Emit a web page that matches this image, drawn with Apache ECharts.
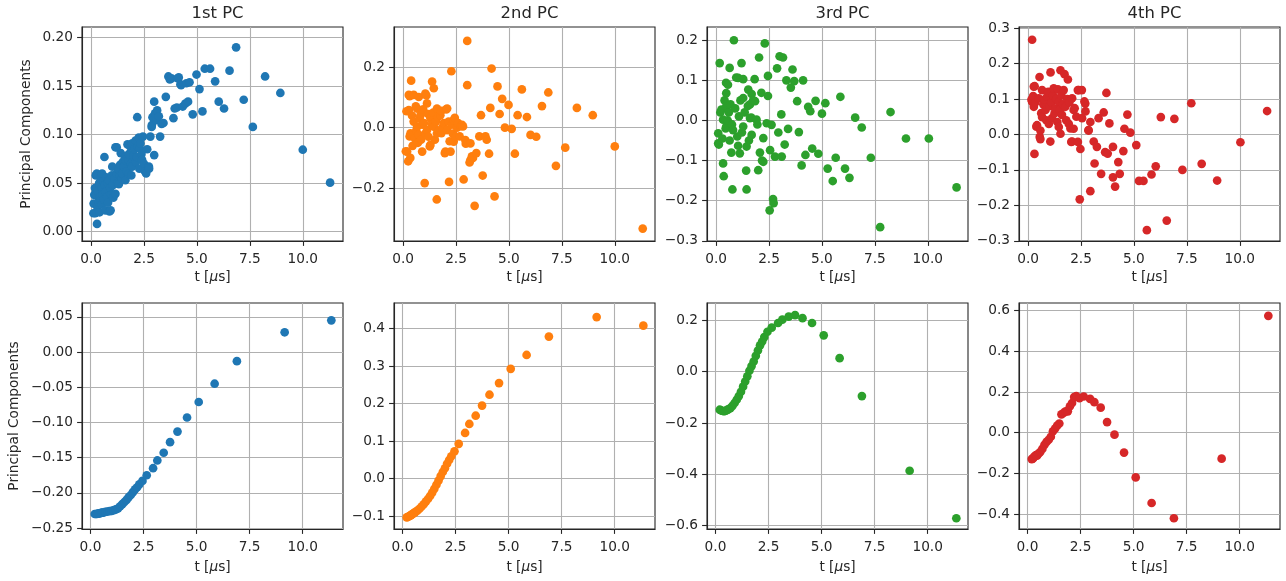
<!DOCTYPE html>
<html>
<head>
<meta charset="utf-8">
<script src="https://cdn.jsdelivr.net/npm/echarts/dist/echarts.min.js"></script>
<style>
html,body{margin:0;padding:0;background:#fff;}
#chart{width:1286px;height:581px;}
</style>
</head>
<body>
<div id="chart"></div>
<script>
// ---------- DATA ----------
const panelTitles = ['1st PC', '2nd PC', '3rd PC', '4th PC'];
const xTickValues = [0, 2.5, 5, 7.5, 10];

// Top row: [t (µs), value]
const pc1Top = [[0.11,0.019],[0.12,0.029],[0.15,0.038],[0.18,0.045],[0.2,0.039],[0.2,0.019],[0.22,0.058],[0.24,0.038],[0.27,0.06],[0.28,0.008],[0.3,0.025],[0.32,0.042],[0.35,0.031],[0.38,0.05],[0.4,0.02],[0.42,0.036],[0.44,0.032],[0.45,0.055],[0.48,0.045],[0.5,0.028],[0.52,0.06],[0.52,0.046],[0.55,0.038],[0.58,0.052],[0.6,0.033],[0.63,0.077],[0.65,0.048],[0.68,0.022],[0.7,0.041],[0.72,0.056],[0.76,0.036],[0.78,0.05],[0.8,0.03],[0.84,0.053],[0.87,0.021],[0.9,0.045],[0.92,0.022],[0.95,0.038],[0.98,0.058],[1.0,0.067],[1.02,0.048],[1.05,0.035],[1.1,0.055],[1.15,0.039],[1.15,0.087],[1.2,0.06],[1.21,0.087],[1.25,0.05],[1.31,0.049],[1.31,0.064],[1.35,0.058],[1.37,0.069],[1.4,0.081],[1.45,0.055],[1.47,0.06],[1.5,0.072],[1.55,0.067],[1.6,0.077],[1.62,0.053],[1.62,0.074],[1.68,0.062],[1.72,0.09],[1.76,0.074],[1.78,0.06],[1.78,0.08],[1.84,0.088],[1.88,0.07],[1.9,0.058],[1.94,0.067],[1.94,0.091],[2.0,0.078],[2.05,0.085],[2.1,0.094],[2.12,0.072],[2.16,0.077],[2.18,0.118],[2.2,0.088],[2.25,0.097],[2.28,0.065],[2.3,0.086],[2.33,0.091],[2.38,0.08],[2.41,0.074],[2.45,0.098],[2.5,0.07],[2.55,0.062],[2.6,0.06],[2.65,0.085],[2.73,0.067],[2.74,0.065],[2.8,0.098],[2.86,0.108],[2.87,0.11],[2.9,0.118],[2.98,0.079],[2.98,0.134],[3.02,0.122],[3.08,0.115],[3.12,0.125],[3.2,0.119],[3.26,0.098],[3.33,0.111],[3.42,0.112],[3.53,0.139],[3.65,0.16],[3.72,0.157],[3.8,0.158],[3.89,0.117],[3.95,0.127],[4.05,0.128],[4.1,0.158],[4.14,0.159],[4.22,0.152],[4.25,0.151],[4.33,0.129],[4.45,0.132],[4.5,0.153],[4.58,0.134],[4.65,0.154],[4.8,0.121],[4.98,0.162],[5.12,0.147],[5.26,0.124],[5.37,0.168],[5.62,0.168],[5.86,0.155],[6.03,0.134],[6.28,0.127],[6.54,0.166],[6.85,0.190],[7.21,0.136],[7.64,0.108],[8.22,0.160],[8.94,0.143],[10.0,0.0845],[11.29,0.0505]];

const pc2Top = [[0.13,-0.078],[0.16,0.054],[0.19,-0.079],[0.24,-0.111],[0.27,0.108],[0.27,0.058],[0.31,0.104],[0.31,-0.029],[0.34,-0.1],[0.35,-0.019],[0.38,0.155],[0.42,0.04],[0.45,-0.06],[0.5,0.108],[0.5,0.02],[0.55,-0.035],[0.6,0.07],[0.62,-0.01],[0.66,0.063],[0.66,0.003],[0.7,-0.05],[0.74,0.101],[0.74,-0.024],[0.78,0.03],[0.82,0.041],[0.85,-0.04],[0.9,-0.079],[0.9,0.01],[0.95,0.06],[0.98,0.015],[1.02,-0.183],[1.05,0.112],[1.05,-0.02],[1.1,0.106],[1.13,0.08],[1.13,-0.008],[1.18,0.045],[1.2,-0.03],[1.26,-0.062],[1.29,0.031],[1.29,-0.057],[1.35,0.01],[1.37,0.152],[1.42,0.05],[1.45,0.13],[1.45,0.003],[1.5,-0.04],[1.55,0.02],[1.59,-0.237],[1.6,0.063],[1.6,-0.019],[1.65,0.035],[1.7,-0.01],[1.76,0.041],[1.8,0.055],[1.81,-0.018],[1.85,0.0],[1.92,0.015],[1.97,-0.084],[2.0,-0.079],[2.04,0.06],[2.08,0.063],[2.08,-0.008],[2.15,0.02],[2.17,-0.179],[2.2,-0.045],[2.24,-0.079],[2.28,0.186],[2.3,0.01],[2.35,-0.02],[2.39,0.025],[2.39,-0.046],[2.44,0.032],[2.47,-0.03],[2.55,0.0],[2.6,0.015],[2.67,-0.029],[2.72,0.005],[2.78,0.009],[2.83,0.004],[2.86,-0.171],[2.94,-0.041],[2.96,-0.053],[3.03,0.286],[3.03,0.14],[3.14,-0.115],[3.18,-0.052],[3.18,-0.107],[3.25,-0.095],[3.3,-0.1],[3.38,-0.258],[3.46,-0.084],[3.6,-0.029],[3.68,0.041],[3.76,-0.158],[3.89,-0.029],[3.95,-0.04],[4.06,-0.086],[4.12,0.065],[4.18,0.195],[4.32,-0.227],[4.46,0.136],[4.56,0.045],[4.68,0.095],[4.81,0.0],[4.98,0.075],[5.13,-0.004],[5.28,-0.086],[5.41,0.041],[5.61,0.126],[5.85,0.035],[6.02,-0.024],[6.29,-0.030],[6.56,0.071],[6.86,0.116],[7.22,-0.126],[7.66,-0.066],[8.21,0.065],[8.96,0.041],[10.0,-0.062],[11.32,-0.333]];

const pc3Top = [[0.1,-0.032],[0.1,-0.057],[0.13,-0.06],[0.17,0.143],[0.2,0.02],[0.25,0.027],[0.3,-0.045],[0.33,0.002],[0.33,-0.107],[0.36,-0.139],[0.4,0.05],[0.45,-0.02],[0.47,0.094],[0.48,0.068],[0.48,0.035],[0.48,-0.015],[0.55,0.0],[0.56,0.089],[0.6,0.02],[0.64,0.131],[0.64,-0.05],[0.68,0.04],[0.72,-0.08],[0.75,-0.01],[0.77,-0.172],[0.8,-0.024],[0.84,0.2],[0.9,0.03],[0.95,0.107],[1.0,-0.04],[1.04,-0.063],[1.04,0.106],[1.08,0.01],[1.12,-0.082],[1.15,0.05],[1.2,0.143],[1.22,-0.03],[1.28,0.103],[1.28,0.056],[1.28,-0.015],[1.35,0.02],[1.42,-0.125],[1.44,-0.065],[1.44,-0.172],[1.5,0.036],[1.52,0.077],[1.55,-0.05],[1.6,0.04],[1.6,0.006],[1.66,0.007],[1.68,0.066],[1.68,-0.036],[1.75,0.05],[1.82,0.103],[1.84,0.048],[1.91,0.002],[1.95,-0.01],[1.99,-0.124],[2.03,0.157],[2.07,-0.08],[2.14,0.069],[2.17,-0.1],[2.23,-0.044],[2.23,-0.103],[2.3,0.192],[2.39,-0.007],[2.45,0.111],[2.45,0.061],[2.53,-0.224],[2.55,-0.074],[2.62,-0.011],[2.69,-0.196],[2.72,-0.206],[2.78,-0.09],[2.88,0.13],[2.94,-0.03],[3.0,0.16],[3.08,0.015],[3.1,-0.09],[3.16,0.157],[3.24,-0.06],[3.32,0.1],[3.4,-0.021],[3.53,0.082],[3.61,0.127],[3.69,0.098],[3.83,0.048],[3.91,-0.029],[4.04,-0.112],[4.11,0.1],[4.22,-0.086],[4.35,0.034],[4.45,0.023],[4.54,-0.07],[4.7,0.049],[4.83,-0.083],[5.0,0.017],[5.16,0.043],[5.27,-0.12],[5.51,-0.151],[5.65,-0.093],[5.87,0.059],[6.09,-0.12],[6.30,-0.143],[6.57,0.007],[6.88,-0.0175],[7.31,-0.093],[7.75,-0.266],[8.24,0.021],[8.97,-0.045],[10.05,-0.045],[11.36,-0.167]];

const pc4Top = [[0.16,0.098],[0.19,0.267],[0.19,0.092],[0.24,0.108],[0.27,0.135],[0.27,0.078],[0.3,-0.055],[0.31,0.136],[0.34,0.09],[0.39,0.022],[0.42,0.026],[0.5,0.102],[0.54,0.162],[0.55,-0.007],[0.58,0.011],[0.58,-0.013],[0.62,0.06],[0.66,0.125],[0.66,0.049],[0.72,0.085],[0.78,0.098],[0.82,0.069],[0.86,0.04],[0.9,0.107],[0.95,0.12],[0.98,0.03],[1.02,0.08],[1.05,-0.02],[1.06,0.175],[1.1,0.09],[1.13,0.046],[1.18,0.11],[1.21,0.13],[1.25,0.06],[1.29,0.073],[1.33,0.1],[1.38,0.035],[1.41,0.127],[1.45,0.092],[1.45,0.021],[1.5,0.07],[1.53,0.181],[1.53,0.002],[1.57,0.11],[1.6,0.055],[1.65,0.085],[1.68,0.125],[1.72,0.17],[1.76,0.078],[1.8,0.04],[1.85,0.1],[1.88,0.155],[1.92,0.03],[1.95,0.09],[2.0,0.017],[2.04,-0.021],[2.08,0.102],[2.08,-0.02],[2.15,0.069],[2.15,0.016],[2.2,0.074],[2.28,0.05],[2.35,0.125],[2.35,-0.021],[2.39,0.125],[2.44,-0.183],[2.47,-0.041],[2.54,0.125],[2.55,0.046],[2.66,0.093],[2.71,0.065],[2.7,0.087],[2.85,0.012],[2.86,0.011],[2.94,0.035],[2.94,-0.16],[3.1,-0.02],[3.14,-0.082],[3.25,-0.035],[3.33,0.046],[3.45,-0.111],[3.57,0.062],[3.64,-0.05],[3.7,0.117],[3.76,-0.054],[3.84,0.031],[4.01,-0.035],[4.01,-0.121],[4.11,-0.147],[4.26,-0.078],[4.33,-0.111],[4.5,-0.047],[4.55,0.016],[4.69,0.056],[4.83,0.005],[5.11,-0.03],[5.24,-0.131],[5.45,-0.131],[5.61,-0.27],[5.83,-0.113],[6.03,-0.09],[6.27,0.049],[6.55,-0.243],[6.91,0.044],[7.29,-0.1],[7.71,0.088],[8.2,-0.083],[8.93,-0.130],[10.03,-0.022],[11.29,0.066]];

// Bottom row: shared t values (µs) and one value list per component
const tBottom = [0.2,0.25,0.3,0.35,0.4,0.45,0.5,0.55,0.6,0.7,0.8,0.9,1.0,1.1,1.2,1.3,1.4,1.5,1.6,1.7,1.8,1.9,2.0,2.1,2.2,2.3,2.45,2.65,2.95,3.15,3.45,3.75,4.1,4.55,5.1,5.85,6.9,9.15,11.35];
const pc1Bottom = [-0.230,-0.230,-0.230,-0.2295,-0.229,-0.229,-0.2285,-0.228,-0.228,-0.227,-0.2265,-0.226,-0.2255,-0.2245,-0.2235,-0.222,-0.219,-0.216,-0.213,-0.210,-0.206,-0.203,-0.199,-0.195,-0.192,-0.188,-0.183,-0.175,-0.165,-0.154,-0.143,-0.128,-0.113,-0.093,-0.071,-0.045,-0.013,0.028,0.045];
const pc2Bottom = [-0.103,-0.102,-0.100,-0.099,-0.097,-0.095,-0.093,-0.091,-0.089,-0.085,-0.080,-0.074,-0.068,-0.061,-0.054,-0.046,-0.037,-0.027,-0.016,-0.005,0.007,0.018,0.028,0.040,0.050,0.060,0.073,0.093,0.122,0.146,0.168,0.195,0.224,0.255,0.293,0.330,0.379,0.431,0.408];
const pc3Bottom = [-0.148,-0.150,-0.152,-0.153,-0.154,-0.153,-0.151,-0.149,-0.147,-0.142,-0.133,-0.122,-0.109,-0.095,-0.078,-0.058,-0.038,-0.018,0.004,0.022,0.040,0.062,0.083,0.103,0.118,0.135,0.156,0.172,0.190,0.203,0.215,0.221,0.209,0.190,0.142,0.053,-0.095,-0.386,-0.571];
const pc4Bottom = [-0.130,-0.128,-0.120,-0.115,-0.110,-0.113,-0.105,-0.100,-0.095,-0.080,-0.060,-0.045,-0.035,-0.020,0.007,0.020,0.035,0.045,0.090,0.097,0.105,0.105,0.130,0.146,0.175,0.180,0.170,0.178,0.166,0.150,0.123,0.052,-0.010,-0.098,-0.220,-0.346,-0.421,-0.128,0.575];

// y tick labels per panel
const yTicks = [
  [0, 0.05, 0.10, 0.15, 0.20],
  [-0.2, 0.0, 0.2],
  [-0.3, -0.2, -0.1, 0.0, 0.1, 0.2],
  [-0.3, -0.2, -0.1, 0.0, 0.1, 0.2, 0.3],
  [-0.25, -0.20, -0.15, -0.10, -0.05, 0.00, 0.05],
  [-0.1, 0.0, 0.1, 0.2, 0.3, 0.4],
  [-0.6, -0.4, -0.2, 0.0, 0.2],
  [-0.4, -0.2, 0.0, 0.2, 0.4, 0.6]
];

// ---------- LAYOUT / STYLE ----------
const colors = ['#1f77b4', '#ff7f0e', '#2ca02c', '#d62728'];
const lefts = [82, 394, 707, 1019];
const plotW = 261;
const rows = [{top: 27, height: 214}, {top: 303, height: 226}];
const yRanges = [
  [-0.0096, 0.211], [-0.374, 0.332], [-0.3005, 0.233], [-0.3005, 0.303],
  [-0.2513, 0.0696], [-0.134, 0.4685], [-0.613, 0.268], [-0.474, 0.638]
];
const yDecimals = [2, 1, 1, 1, 2, 1, 1, 1];
const xRanges = [[-0.43, 11.9], [-0.4, 11.9]];
const FONT = 'DejaVu Sans';
const TXT = '#262626';
const FS = 13.7;

function fmt(v, d) {
  const s = Math.abs(v).toFixed(d);
  return (v < -1e-9 ? '\u2212' : '') + s;
}

const topData = [pc1Top, pc2Top, pc3Top, pc4Top];
const bottomVals = [pc1Bottom, pc2Bottom, pc3Bottom, pc4Bottom];

const grids = [], xAxes = [], yAxes = [], series = [], titles = [];
for (let i = 0; i < 8; i++) {
  const r = i < 4 ? 0 : 1;
  const c = i % 4;
  grids.push({
    left: lefts[c], top: rows[r].top, width: plotW, height: rows[r].height,
    show: true, borderColor: '#262626', borderWidth: 1.1, backgroundColor: 'transparent'
  });
  xAxes.push({
    type: 'value', gridIndex: i, min: xRanges[r][0], max: xRanges[r][1],
    name: 't [{mu|μ}s]', nameLocation: 'middle', nameGap: r === 0 ? 29 : 31,
    nameTextStyle: {
      fontFamily: FONT, fontSize: FS, color: TXT,
      rich: { mu: { fontFamily: FONT, fontSize: FS, fontStyle: 'italic', color: TXT } }
    },
    axisLine: { show: true, onZero: false, lineStyle: { color: '#262626', width: 1.1 } },
    axisTick: { show: true, length: 4.9, customValues: xTickValues, lineStyle: { color: '#262626', width: 1.1 } },
    axisLabel: { customValues: xTickValues, margin: 11, fontFamily: FONT, fontSize: FS, color: TXT,
      formatter: v => fmt(v, 1) },
    splitLine: { show: true, lineStyle: { color: '#b0b0b0', width: 1.1 } }
  });
  yAxes.push({
    type: 'value', gridIndex: i, min: yRanges[i][0], max: yRanges[i][1],
    name: c === 0 ? 'Principal Components' : '', nameLocation: 'middle',
    nameGap: r === 0 ? 49 : 61, nameRotate: 90,
    nameTextStyle: { fontFamily: FONT, fontSize: FS, color: TXT },
    axisLine: { show: true, onZero: false, lineStyle: { color: '#262626', width: 1.1 } },
    axisTick: { show: true, length: 4.9, customValues: yTicks[i], lineStyle: { color: '#262626', width: 1.1 } },
    axisLabel: { customValues: yTicks[i], margin: 9, fontFamily: FONT, fontSize: FS, color: TXT,
      formatter: v => fmt(v, yDecimals[i]) },
    splitLine: { show: true, lineStyle: { color: '#b0b0b0', width: 1.1 } }
  });
  const data = r === 0 ? topData[c] : tBottom.map((t, k) => [t, bottomVals[c][k]]);
  series.push({
    type: 'scatter', xAxisIndex: i, yAxisIndex: i, data: data,
    symbol: 'circle', symbolSize: 8.7, silent: true,
    itemStyle: { color: colors[c], opacity: 1 }
  });
}
for (let c = 0; c < 4; c++) {
  titles.push({
    text: panelTitles[c], left: lefts[c] + plotW / 2, top: 1, textAlign: 'center',
    textStyle: { fontFamily: FONT, fontSize: 16.4, fontWeight: 'normal', color: TXT }
  });
}

const chart = echarts.init(document.getElementById('chart'), null, { renderer: 'canvas' });
chart.setOption({
  animation: false,
  backgroundColor: '#fff',
  title: titles,
  grid: grids,
  xAxis: xAxes,
  yAxis: yAxes,
  series: series
});
</script>
</body>
</html>
